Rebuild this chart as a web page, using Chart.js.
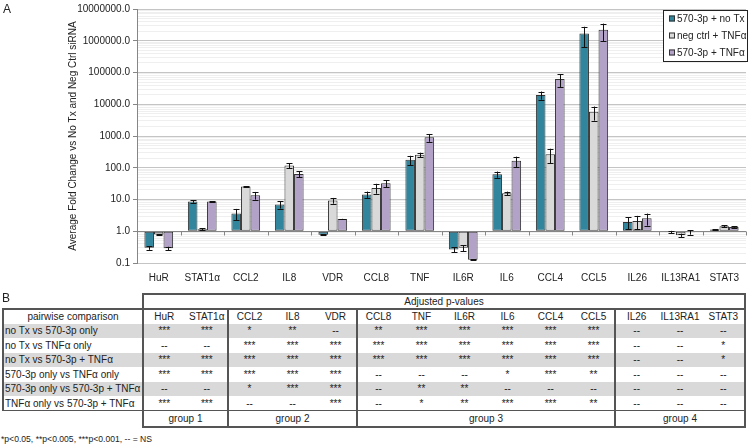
<!DOCTYPE html>
<html><head><meta charset="utf-8">
<script src="https://cdn.jsdelivr.net/npm/chart.js@4/dist/chart.umd.min.js"></script>
<style>
html,body{margin:0;padding:0;background:#fff;}
#wrap{position:relative;width:750px;height:444px;overflow:hidden;font-family:"Liberation Sans",Arial,sans-serif;color:#222;}
#c{position:absolute;left:0;top:0;}
.lbl{position:absolute;font-size:12px;line-height:14px;}
.cell{position:absolute;font-size:10px;white-space:nowrap;display:flex;align-items:center;justify-content:center;}
.cell.left{justify-content:flex-start;padding-left:2px;box-sizing:border-box;}
.ln{position:absolute;background:#555;}
.band{position:absolute;background:#d9d9d9;}
.foot{position:absolute;font-size:8.6px;white-space:nowrap;}
</style></head>
<body><div id="wrap">
<canvas id="c" width="750" height="290"></canvas>
<div class="lbl" style="left:3px;top:2px">A</div>
<div class="lbl" style="left:2px;top:291px">B</div>
<div id="tbl"></div>
</div>
<script>
// ---------- DATA ----------
const categories = ['HuR','STAT1\u03b1','CCL2','IL8','VDR','CCL8','TNF','IL6R','IL6','CCL4','CCL5','IL26','IL13RA1','STAT3'];
const seriesNames = ['570-3p + no Tx','neg ctrl + TNF\u03b1','570-3p + TNF\u03b1'];
const noTx      = [0.30, 8.7, 3.65, 7.0, 0.78, 14.3, 178, 0.267, 62, 19600, 1690000, 1.96, 0.95, 1.13];
const noTxSD    = [0.04, 0.8, 1.4, 1.8, 0.02, 3.5, 60, 0.05, 14, 5600, 1070000, 0.8, 0.08, 0.02];
const negCtrl   = [0.79, 1.15, 25.5, 118, 9.3, 23.2, 255, 0.30, 15.8, 267, 5760, 2.1, 0.75, 1.43];
const negCtrlSD = [0.01, 0.09, 0.3, 20, 1.9, 8, 43, 0.065, 1.9, 130, 2700, 0.95, 0.09, 0.1];
const tnfA      = [0.29, 8.66, 13.6, 63.5, 2.43, 32.5, 908, 0.127, 165, 62000, 2210000, 2.55, 0.93, 1.37];
const tnfASD    = [0.035, 0.2, 3.7, 13.5, 0.03, 8.5, 250, 0.005, 59, 27000, 1250000, 1.05, 0.15, 0.07];
const yMajorTicks = [0.1, 1, 10, 100, 1000, 10000, 100000, 1000000, 10000000];
const yTitle = 'Average Fold Change vs No Tx and Neg Ctrl siRNA';

// table data
const tableTitle = 'Adjusted p-values';
const firstColHeader = 'pairwise comparison';
const comparisons = ['no Tx vs 570-3p only','no Tx vs TNF\u03b1 only','no Tx vs 570-3p + TNF\u03b1','570-3p only vs TNF\u03b1 only','570-3p only vs 570-3p + TNF\u03b1','TNF\u03b1 only vs 570-3p + TNF\u03b1'];
const sig1 = ['***','***','*','**','--','**','***','***','***','***','***','--','--','--'];
const sig2 = ['--','--','***','***','***','***','***','***','***','***','***','--','--','*'];
const sig3 = ['***','***','***','***','***','***','***','***','***','***','***','--','--','*'];
const sig4 = ['***','***','***','***','***','--','--','--','*','***','**','--','--','--'];
const sig5 = ['--','--','*','***','***','--','**','**','--','--','--','--','--','--'];
const sig6 = ['***','***','--','--','***','--','*','**','***','***','**','--','--','--'];
const groupNames = ['group 1','group 2','group 3','group 4'];
const groupSizes = [2, 3, 6, 3];
const footnote = '*p<0.05, **p<0.005, ***p<0.001, -- = NS';

// ---------- CHART ----------
const isMajor = v => yMajorTicks.some(m => Math.abs(Math.log10(v) - Math.log10(m)) < 1e-6);
const errors = [noTxSD, negCtrlSD, tnfASD];

Chart.defaults.font.family = '"Liberation Sans", Arial, sans-serif';
Chart.defaults.font.size = 10;
Chart.defaults.color = '#222';

const axisLine = {
  id: 'axisLine',
  afterDatasetsDraw(chart) {
    const {ctx, chartArea: a, scales: {x, y}} = chart;
    const yy = Math.round(y.getPixelForValue(1)) + 0.5;
    ctx.save();
    ctx.strokeStyle = '#868686'; ctx.lineWidth = 1;
    ctx.beginPath(); ctx.moveTo(a.left, yy); ctx.lineTo(a.right, yy);
    const n = categories.length;
    for (let k = 1; k <= n; k++) {
      const xx = Math.round(a.left + (a.right - a.left) * k / n) + 0.5;
      ctx.moveTo(xx, yy); ctx.lineTo(xx, yy + 4);
    }
    ctx.stroke();
    // error bars
    ctx.strokeStyle = '#111';
    chart.data.datasets.forEach((ds, di) => {
      const meta = chart.getDatasetMeta(di);
      meta.data.forEach((bar, i) => {
        const v = ds.data[i], s = errors[di][i];
        const t = y.getPixelForValue(v + s);
        const b = y.getPixelForValue(Math.max(v - s, 0.1));
        const bx = Math.round(bar.x) + 0.5;
        ctx.beginPath();
        ctx.moveTo(bx, t); ctx.lineTo(bx, b);
        ctx.moveTo(bx - 3, Math.round(t) + 0.5); ctx.lineTo(bx + 3, Math.round(t) + 0.5);
        ctx.moveTo(bx - 3, Math.round(b) + 0.5); ctx.lineTo(bx + 3, Math.round(b) + 0.5);
        ctx.stroke();
      });
    });
    ctx.restore();
  }
};

const legendBox = {
  id: 'legendBox',
  afterDraw(chart) {
    const ctx = chart.ctx;
    ctx.save();
    ctx.fillStyle = '#fff'; ctx.fillRect(663.5, 10.5, 84, 51);
    ctx.strokeStyle = '#222'; ctx.lineWidth = 1; ctx.strokeRect(663.5, 10.5, 84, 51);
    ctx.font = '10px "Liberation Sans", Arial, sans-serif';
    ctx.textBaseline = 'middle';
    chart.data.datasets.forEach((ds, i) => {
      const cy = 18.5 + i * 17;
      ctx.fillStyle = ds.backgroundColor; ctx.fillRect(669, cy - 3, 6, 6);
      ctx.strokeStyle = '#333'; ctx.strokeRect(669.5, cy - 2.5, 5, 5);
      ctx.fillStyle = '#222'; ctx.fillText(ds.label, 677, cy + 0.5);
    });
    ctx.restore();
  }
};

const colors = ['#31859C', '#D9D9D9', '#B3A2C7'];
const seriesData = [noTx, negCtrl, tnfA];

new Chart(document.getElementById('c'), {
  type: 'bar',
  data: {
    labels: categories,
    datasets: seriesData.map((d, i) => ({
      label: seriesNames[i], data: d, backgroundColor: colors[i],
      borderColor: '#333', borderWidth: 1, borderSkipped: false, base: 1,
      categoryPercentage: 0.66, barPercentage: 1.0
    }))
  },
  options: {
    responsive: false, animation: false, events: [],
    devicePixelRatio: 1,
    layout: {padding: {top: 7, right: 4, left: 0, bottom: 0}},
    plugins: {legend: {display: false}, tooltip: {enabled: false}},
    scales: {
      x: {
        grid: {display: false, drawTicks: false},
        border: {display: false},
        ticks: {padding: 9, color: '#222', font: {size: 10}, maxRotation: 0, minRotation: 0, autoSkip: false},
        afterFit: s => { s.height = 27; }
      },
      y: {
        type: 'logarithmic', min: 0.1, max: 10000000,
        afterBuildTicks: scale => {
          const t = [];
          for (let e = -1; e < 7; e++) for (let m = 1; m <= 9; m++) t.push({value: Number((m * Math.pow(10, e)).toPrecision(6))});
          t.push({value: 10000000});
          scale.ticks = t;
        },
        ticks: {
          autoSkip: false, padding: 3, color: '#222',
          callback: v => isMajor(v) ? Number(v).toFixed(1) : ''
        },
        grid: {
          color: c => (c.tick && isMajor(c.tick.value)) ? '#c4c4c4' : '#efefef',
          tickColor: c => (c.tick && isMajor(c.tick.value)) ? '#868686' : 'rgba(0,0,0,0)',
          tickLength: 4, drawTicks: true
        },
        border: {display: true, color: '#868686'},
        title: {display: true, text: yTitle, color: '#222', font: {size: 10}, padding: {top: 67, bottom: 0}},
        afterFit: s => { s.width = 137; }
      }
    }
  },
  plugins: [axisLine, legendBox]
});

// ---------- TABLE ----------
const tbl = document.getElementById('tbl');
function el(cls, x, y, w, h, text) {
  const d = document.createElement('div');
  d.className = cls;
  d.style.left = x + 'px'; d.style.top = y + 'px';
  d.style.width = w + 'px'; d.style.height = h + 'px';
  if (text !== undefined) d.textContent = text;
  tbl.appendChild(d);
  return d;
}
const L = 3, C0 = 143, R = 745;
const yTitleTop = 294, yHead = 309, yData = 323.5, rowH = 14.5, yGroupB = 427;
const yDataEnd = yData + rowH * 6;
const groupEdges = [C0, 228, 357, 615, R];
const colX = [];
groupSizes.forEach((n, g) => {
  const w = (groupEdges[g + 1] - groupEdges[g]) / n;
  for (let k = 0; k < n; k++) colX.push([groupEdges[g] + k * w, w]);
});
const sigRows = [sig1, sig2, sig3, sig4, sig5, sig6];
sigRows.forEach((r, i) => { if (i % 2 === 0) el('band', L, yData + i * rowH, R - L, rowH); });
el('cell', C0, yTitleTop, R - C0, yHead - yTitleTop, tableTitle);
el('cell', L, yHead, C0 - L, yData - yHead, firstColHeader);
categories.forEach((c, i) => el('cell', colX[i][0], yHead, colX[i][1], yData - yHead, c));
sigRows.forEach((r, i) => {
  const y = yData + i * rowH;
  el('cell left', L, y, C0 - L, rowH, comparisons[i]);
  r.forEach((s, j) => el('cell', colX[j][0], y, colX[j][1], rowH, s));
});
groupNames.forEach((g, i) => el('cell', groupEdges[i], yDataEnd, groupEdges[i + 1] - groupEdges[i], yGroupB - yDataEnd, g));
const T = 1.6;
function hl(x1, x2, y) { el('ln', x1, y - T / 2, x2 - x1 + T / 2, T); }
function vl(x, y1, y2) { el('ln', x - T / 2, y1 - T / 2, T, y2 - y1 + T); }
hl(C0, R, yTitleTop);
hl(L, R, yHead);
hl(L, R, yDataEnd);
hl(C0, R, yGroupB);
vl(L, yHead, yDataEnd);
vl(R, yTitleTop, yGroupB);
vl(C0, yTitleTop, yGroupB);
[228, 357, 615].forEach(x => vl(x, yHead, yGroupB));
const f = document.createElement('div');
f.className = 'foot'; f.style.left = '1px'; f.style.top = '434px'; f.textContent = footnote;
tbl.appendChild(f);
</script>
</body></html>
